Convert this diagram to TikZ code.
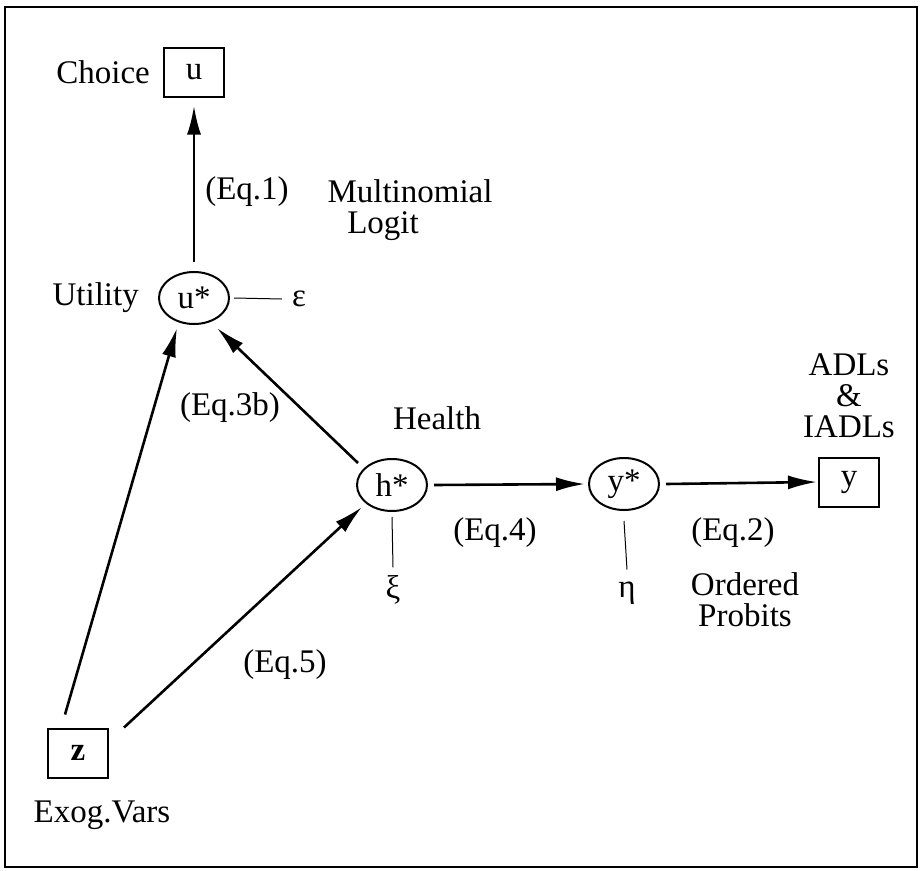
\documentclass[tikz,border=0pt]{standalone}
\usepackage{fontspec}
\setmainfont{Liberation Serif}
\usetikzlibrary{shapes.geometric}
\usetikzlibrary{positioning}
\usetikzlibrary{arrows.meta}

\begin{document}
\begin{tikzpicture}[
    x=1pt, y=-1pt,
    observed/.style={
        rectangle, draw=black, line width=2pt,
        minimum width=60pt, minimum height=49pt,
        font=\fontsize{33}{31}\selectfont
    },
    latent/.style={
        ellipse, draw=black, line width=2pt,
        minimum width=70pt, minimum height=52pt, inner sep=0pt,
        font=\fontsize{33}{31}\selectfont
    },
    lbl/.style={
        inner sep=0pt, align=center,
        font=\fontsize{33}{31}\selectfont
    },
    arr/.style={->, >={Latex[length=29pt,width=14pt]}, line width=2.6pt},
    err/.style={line width=1pt}
]
\useasboundingbox (0,0) rectangle (923,870);
\draw[line width=1.8pt] (5,7) rectangle (917,867);

% choice part
\node[observed] (u) at (194,72) {u};
\node[lbl, left=13pt of u] (choice) {Choice};
\node[latent] (ustar) at (194,298) {u*};
\node[lbl, left=19pt of ustar] (utility) {Utility};
\node[lbl] (eps) at (299,299) {ε};
\node[lbl] (eq1) at (247,192) {(Eq.1)};
\node[lbl] (mnl) at (410,191) {Multinomial};
\node[lbl] (logit) at (383,226) {Logit};

% health part
\node[latent] (hstar) at (392,485) {h*};
\node[lbl] (health) at (437,418) {Health};
\node[lbl] (eq3b) at (230,408) {(Eq.3b)};
\node[lbl] (xi) at (393,590) {ξ};
\node[latent] (ystar) at (624,484) {y*};
\node[lbl] (eta) at (627,593) {η};
\node[lbl] (eq4) at (495,533) {(Eq.4)};
\node[observed] (y) at (849,482) {y};
\node[lbl, above=18pt of y] (adls) {ADLs\\\&\\IADLs};
\node[lbl] (eq2) at (733,533) {(Eq.2)};
\node[lbl] (probits) at (745,600) {Ordered\\Probits};

% exogenous part
\node[observed] (z) at (78,753) {\textbf{z}};
\node[lbl] (exog) at (102,815) {Exog.Vars};
\node[lbl] (eq5) at (285,665) {(Eq.5)};

\draw[arr] ([yshift=9pt]ustar.north) -- ([yshift=-8pt]u.south);
\draw[arr] ([xshift=-34pt,yshift=22pt]hstar.center) -- ([xshift=23pt,yshift=-30pt]ustar.center);
\draw[arr] ([xshift=-13pt,yshift=13pt]z.north) -- ([xshift=-17pt,yshift=-30pt]ustar.center);
\draw[arr] ([xshift=15pt]z.north east) -- ([xshift=-30pt,yshift=-22pt]hstar.center);
\draw[arr] ([xshift=6pt]hstar.east) -- ([xshift=-3pt]ystar.west);
\draw[arr] ([xshift=6pt]ystar.east) -- ([xshift=-1pt]y.west);

\draw[err] ([xshift=4pt]ustar.east) -- ([xshift=-10pt]eps.west);
\draw[err] ([yshift=-5pt]hstar.south) -- ([yshift=8pt]xi.north);
\draw[err] ([yshift=-10pt]ystar.south) -- ([yshift=12pt]eta.north);
\end{tikzpicture}
\end{document}
